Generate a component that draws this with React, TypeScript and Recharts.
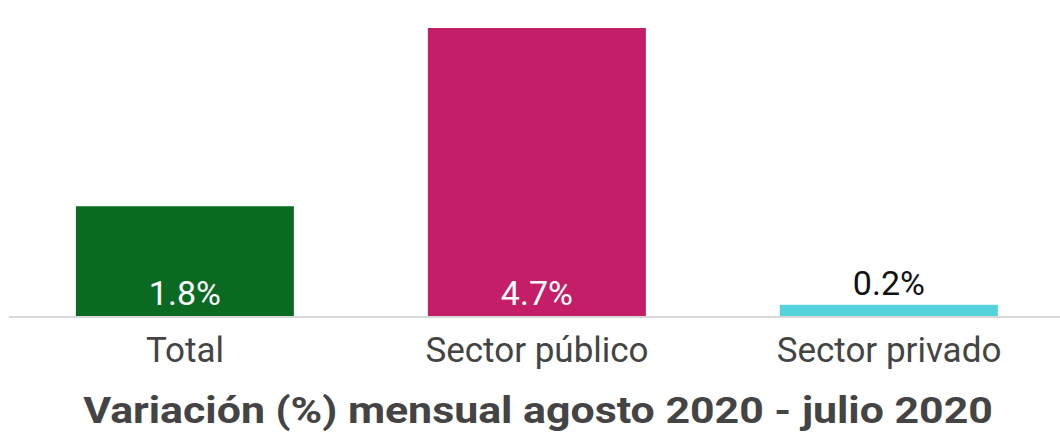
import { BarChart, Bar, XAxis, YAxis, Cell, LabelList } from 'recharts';

const categories = ['Total', 'Sector público', 'Sector privado'];
const values = [1.8, 4.7, 0.2];
const barColors = ['#0B6A22', '#C41E69', '#54D4DA'];
const chartTitle = 'Variación (%) mensual agosto 2020 - julio 2020';

const data = categories.map((name, i) => ({ name, value: values[i] }));

function ValueLabel(props: any) {
  const { x, y, width, height, value } = props;
  const cx = x + width / 2;
  const inside = height > 40;
  return (
    <text
      x={cx}
      y={inside ? y + height - 12 : y - 10}
      textAnchor="middle"
      fill={inside ? '#ffffff' : '#111111'}
      fontSize={34}
      fontFamily="Roboto"
    >
      {`${value.toFixed(1)}%`}
    </text>
  );
}

export default function App() {
  return (
    <div
      style={{
        position: 'absolute',
        left: 0,
        top: 0,
        width: 1060,
        height: 435,
        overflow: 'hidden',
        background: '#fff',
        fontFamily: 'Roboto',
      }}
    >
      <BarChart
        width={1066}
        height={435}
        data={data}
        margin={{ top: 28, right: 1, left: 9, bottom: 0 }}
        barCategoryGap="19%"
      >
        <XAxis
          dataKey="name"
          height={118}
          tickLine={false}
          axisLine={{ stroke: '#d9d9d9', strokeWidth: 2 }}
          tick={{ fontSize: 35, fill: '#444444', fontFamily: 'Roboto' }}
          tickMargin={14}
          interval={0}
        />
        <YAxis hide domain={[0, 4.7]} />
        <Bar dataKey="value" isAnimationActive={false}>
          {data.map((d, i) => (
            <Cell key={d.name} fill={barColors[i]} />
          ))}
          <LabelList dataKey="value" content={ValueLabel} />
        </Bar>
      </BarChart>
      <div
        style={{
          position: 'absolute',
          left: 0,
          width: 1076,
          top: 391,
          textAlign: 'center',
          fontSize: 36,
          fontWeight: 700,
          color: '#444444',
          lineHeight: '40px',
          fontFamily: 'Roboto',
          whiteSpace: 'nowrap',
          transform: 'scaleX(1.19)',
          transformOrigin: '538px 0',
        }}
      >
        {chartTitle}
      </div>
    </div>
  );
}
